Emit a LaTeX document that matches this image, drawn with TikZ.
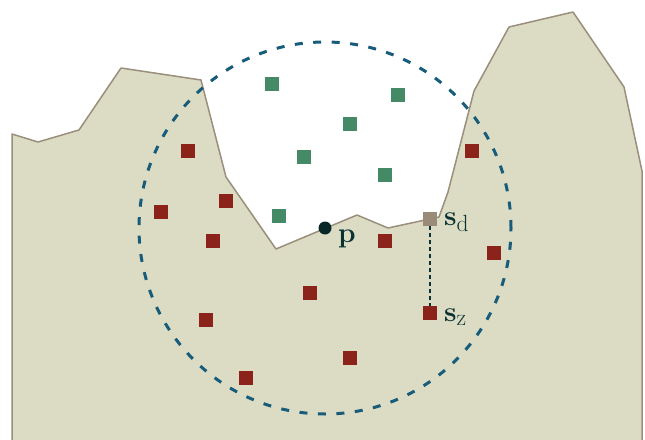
\documentclass[tikz,border=0pt]{standalone}
\definecolor{terrain}{RGB}{220,220,196}
\definecolor{terrainedge}{RGB}{154,142,124}
\definecolor{circblue}{RGB}{23,92,122}
\definecolor{freegreen}{RGB}{69,138,102}
\definecolor{blockred}{RGB}{139,35,27}
\definecolor{surfgrey}{RGB}{154,139,120}
\definecolor{dotdark}{RGB}{8,40,40}
\definecolor{labeltext}{RGB}{11,50,50}

\begin{document}
\begin{tikzpicture}[x=1pt,y=-1pt,
sqnode/.style={rectangle, minimum size=14pt, inner sep=0pt},
freenode/.style={sqnode, fill=freegreen},
blocknode/.style={sqnode, fill=blockred},
labelnode/.style={text=labeltext, inner sep=0pt, anchor=base west, scale=1.13, transform shape, font=\fontsize{24.88}{30}\selectfont}
]
    \useasboundingbox (0,0) rectangle (645,439);
    \clip (0,0) rectangle (645,439);

    % terrain
    \filldraw[fill=terrain, draw=terrainedge, line width=1.5pt, line join=round]
        (12,445) -- (12,134) -- (38,142) -- (79,130) -- (121,68) -- (201,80)
        -- (226,177) -- (276,249) -- (357,215) -- (388,228) -- (439,217)
        -- (448,192) -- (474,91) -- (509,27) -- (573,12) -- (624,87)
        -- (642,171) -- (642,445) -- cycle;

    \node[circle, fill=dotdark, minimum size=13pt, inner sep=0pt] (p) at (325,228){};
    \node[labelnode] (lp) at (338,242){$\mathbf{p}$};

    \draw[circblue, line width=3pt, dash pattern=on 8pt off 10.5pt] (p) circle[radius=186pt];

    % free space samples
    \node[freenode] (g1) at (272,84){};
    \node[freenode] (g2) at (398,95){};
    \node[freenode] (g3) at (350,124){};
    \node[freenode] (g4) at (304,157){};
    \node[freenode] (g5) at (385,175){};
    \node[freenode] (g6) at (279,216){};

    % blocked samples
    \node[blocknode] (r1) at (188,151){};
    \node[blocknode] (r2) at (472,151){};
    \node[blocknode] (r3) at (226,201){};
    \node[blocknode] (r4) at (161,212){};
    \node[blocknode] (r5) at (213,241){};
    \node[blocknode] (r6) at (385,241){};
    \node[blocknode] (r7) at (494,253){};
    \node[blocknode] (r8) at (310,293){};
    \node[blocknode] (r9) at (206,320){};
    \node[blocknode] (r10) at (350,358){};
    \node[blocknode] (r11) at (246,378){};

    \node[sqnode, fill=surfgrey] (sd) at (430,219){};
    \node[blocknode] (sz) at (430,313){};
    \node[labelnode] (lsd) at (444,225){$\mathbf{s}_\mathrm{d}$};
    \node[labelnode] (lsz) at (444,321){$\mathbf{s}_\mathrm{z}$};

    \draw[labeltext, line width=1.3pt, dash pattern=on 4pt off 3pt] (sd) -- (sz);
\end{tikzpicture}
\end{document}
